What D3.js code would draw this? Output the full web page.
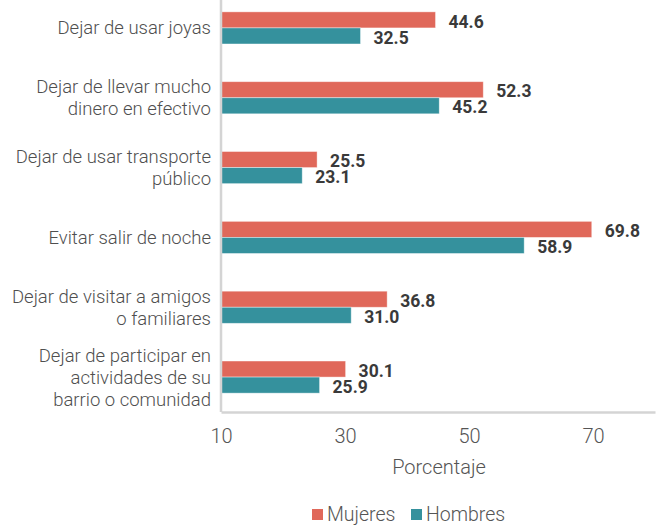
<!DOCTYPE html>
<html>
<head>
<meta charset="utf-8">
<script src="https://cdn.jsdelivr.net/npm/d3@7"></script>
<style>
  html, body { margin: 0; padding: 0; background: #fff; }
  svg { display: block; font-family: Roboto, "Open Sans", sans-serif; }
</style>
</head>
<body>
<svg id="chart" width="656" height="525"></svg>
<script>
// Acciones dejadas de hacer por temor a ser víctima, por sexo (%)
const categories = [
  ["Dejar de usar joyas"],
  ["Dejar de llevar mucho", "dinero en efectivo"],
  ["Dejar de usar transporte", "público"],
  ["Evitar salir de noche"],
  ["Dejar de visitar a amigos", "o familiares"],
  ["Dejar de participar en", "actividades de su", "barrio o comunidad"]
];
const seriesNames = ["Mujeres", "Hombres"];
const mujeres = [44.6, 52.3, 25.5, 69.8, 36.8, 30.1];
const hombres = [32.5, 45.2, 23.1, 58.9, 31.0, 25.9];
const xTicks = [10, 30, 50, 70];
const axisTitle = "Porcentaje";

const colors = { Mujeres: "#E0685A", Hombres: "#35919D" };
const seriesValues = { Mujeres: mujeres, Hombres: hombres };

const svg = d3.select("#chart");
const plotLeft = 221, plotRight = 655, plotTop = -7, plotBottom = 412;

const x = d3.scaleLinear().domain([10, 80]).range([plotLeft, plotRight]);
const y = d3.scaleBand().domain(d3.range(categories.length)).range([plotTop, plotBottom]).paddingInner(0.54).paddingOuter(0.27);
const ySub = d3.scaleBand().domain(seriesNames).range([0, y.bandwidth()]);

// bars
const groups = svg.append("g").selectAll("g").data(categories).join("g")
  .attr("transform", (d, i) => `translate(0,${y(i)})`);

seriesNames.forEach(name => {
  groups.append("rect")
    .attr("x", x(10))
    .attr("y", ySub(name))
    .attr("width", (d, i) => x(seriesValues[name][i]) - x(10))
    .attr("height", ySub.bandwidth())
    .attr("fill", colors[name])
    .attr("stroke", "#fff")
    .attr("stroke-opacity", 0.5)
    .attr("stroke-width", 0.8);

  groups.append("text")
    .attr("x", (d, i) => x(seriesValues[name][i]) + 13)
    .attr("y", ySub(name) + ySub.bandwidth() / 2 + 1.5)
    .attr("dy", "0.35em")
    .attr("font-size", 17.5)
    .attr("font-weight", 700)
    .attr("fill", "#3a3a3a")
    .text((d, i) => seriesValues[name][i].toFixed(1));
});

// category labels
const lineH = 22;
groups.append("text")
  .attr("text-anchor", "end")
  .attr("font-size", 18.5)
  .attr("font-weight", 300)
  .attr("fill", "#4f4f4f")
  .each(function(lines) {
    const t = d3.select(this);
    const c = y.bandwidth() / 2;
    const start = c - (lines.length - 1) * lineH / 2;
    lines.forEach((ln, k) => {
      t.append("tspan").attr("x", 211).attr("y", start + k * lineH).attr("dy", "0.35em").text(ln);
    });
  });

// axes
const xAxis = d3.axisBottom(x).tickValues(xTicks).tickSize(0).tickPadding(17);
const gx = svg.append("g").attr("transform", `translate(0,${plotBottom})`).call(xAxis);
gx.select(".domain").attr("stroke", "#d4d4d4").attr("stroke-width", 2.5);
gx.selectAll(".tick text").attr("font-size", 20).attr("font-weight", 300).attr("fill", "#555")
  .attr("font-family", "Roboto, sans-serif");

svg.append("line")
  .attr("x1", plotLeft).attr("x2", plotLeft).attr("y1", 0).attr("y2", plotBottom)
  .attr("stroke", "#d4d4d4").attr("stroke-width", 2.5);

svg.append("text")
  .attr("x", 439).attr("y", 467).attr("dy", "0.35em")
  .attr("text-anchor", "middle")
  .attr("font-size", 20).attr("font-weight", 300).attr("fill", "#555")
  .text(axisTitle);

// legend
const legendPos = [{ name: "Mujeres", x: 312 }, { name: "Hombres", x: 411 }];
const lg = svg.append("g");
legendPos.forEach(p => {
  lg.append("rect").attr("x", p.x).attr("y", 509).attr("width", 11).attr("height", 11).attr("fill", colors[p.name]);
  lg.append("text").attr("x", p.x + 15).attr("y", 514.5).attr("dy", "0.35em")
    .attr("font-size", 19.5).attr("font-weight", 300).attr("fill", "#555").text(p.name);
});
</script>
</body>
</html>
